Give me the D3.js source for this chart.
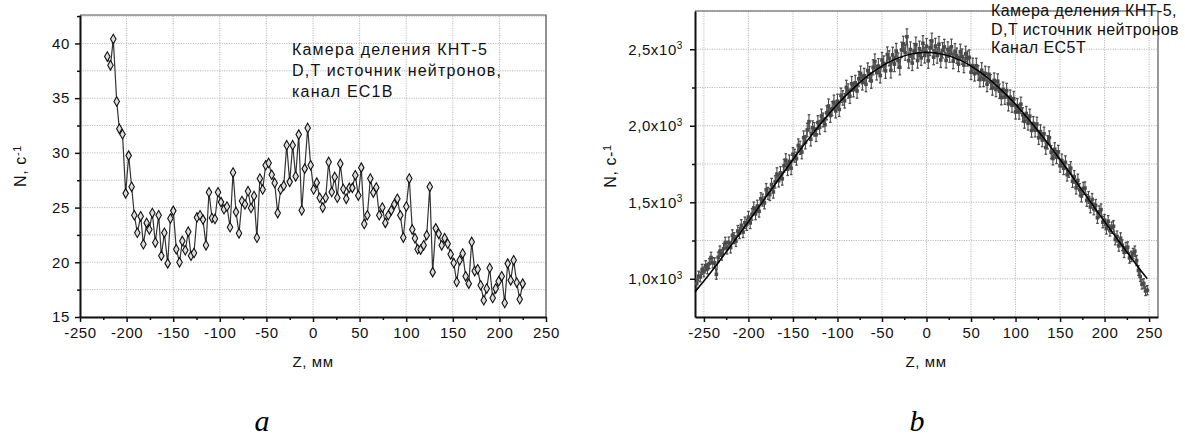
<!DOCTYPE html>
<html>
<head>
<meta charset="utf-8">
<script src="https://cdn.jsdelivr.net/npm/d3@7"></script>
<style>
  html, body { margin: 0; padding: 0; background: #fff; }
  svg { display: block; }
</style>
</head>
<body>
<svg id="fig" width="1185" height="436"></svg>
<script>
// ---- Panel a: fission chamber count rate, channel EC1B ----
const aZ = [-220.7,-217.3,-214.3,-210.6,-207.8,-204.4,-201.0,-197.8,-194.6,-191.7,
  -188.5,-184.9,-182.0,-178.5,-175.6,-172.4,-169.2,-165.6,-162.7,-159.5,
  -155.9,-153.0,-149.9,-146.7,-143.2,-140.2,-137.0,-133.8,-130.9,-127.7,
  -124.5,-121.2,-118.0,-114.8,-111.6,-108.4,-105.2,-101.9,-98.7,-95.5,
  -92.3,-89.0,-85.8,-82.6,-79.4,-76.2,-73.0,-69.7,-66.5,-63.3,
  -60.2,-57.0,-54.0,-50.8,-47.6,-44.3,-41.1,-37.9,-34.7,-31.4,
  -28.2,-25.0,-21.8,-18.6,-15.3,-12.1,-8.9,-5.7,-2.5,0.7,
  4.0,7.2,10.4,13.6,16.8,20.1,23.3,26.1,29.3,32.5,
  35.7,38.9,42.2,45.4,48.6,51.8,55.0,58.3,61.5,64.7,
  67.9,71.1,74.4,77.6,80.8,84.0,87.2,90.5,93.7,96.9,
  100.1,103.3,106.5,109.4,112.3,115.5,118.7,122.0,125.3,128.4,
  131.7,134.9,138.1,141.3,144.5,147.7,151.0,154.2,157.4,160.6,
  163.8,167.1,170.3,173.5,176.7,179.9,183.2,186.4,189.6,192.8,
  196.0,199.2,202.5,205.7,208.9,212.1,215.3,218.6,221.8,225.0];
const aN = [38.8,38.0,40.4,34.7,32.2,31.7,26.3,29.75,26.9,24.3,
  22.7,24.2,21.65,23.6,23.0,24.5,21.8,24.3,20.6,22.7,
  19.9,24.0,24.7,21.2,20.0,21.95,21.1,22.8,20.6,20.85,
  24.1,24.3,23.9,21.55,26.4,24.05,23.96,26.4,25.5,24.85,
  25.1,23.2,28.2,24.6,22.65,25.6,25.3,26.5,24.96,26.06,
  22.25,27.65,26.65,28.87,29.08,28.0,27.25,24.5,26.65,27.0,
  30.7,27.35,30.7,27.86,31.67,24.75,28.56,32.28,28.87,26.65,
  27.28,25.9,25.0,25.9,29.17,26.43,27.8,25.9,29.0,26.7,
  25.8,26.8,26.8,27.95,26.1,28.65,23.5,24.3,27.65,26.37,
  26.83,24.3,25.0,23.6,24.3,24.75,25.3,25.8,24.3,22.26,
  25.1,27.65,23.0,22.2,21.2,21.16,21.55,22.47,26.9,19.1,
  23.1,22.6,21.55,22.2,21.7,20.73,19.94,18.2,20.18,20.8,
  18.72,18.05,21.86,19.2,19.36,17.9,16.53,17.6,19.48,16.74,
  17.6,18.26,18.72,16.28,19.88,18.35,20.18,18.15,16.62,18.05];
const aXTicks = [-250,-200,-150,-100,-50,0,50,100,150,200,250];
const aXMinor = [-225,-175,-125,-75,-25,25,75,125,175,225];
const aYTicks = [15,20,25,30,35,40];
const aYMinor = [17.5,22.5,27.5,32.5,37.5,42.5];
const aNote = ["Камера деления КНТ-5", "D,T источник нейтронов,", "канал EC1B"];

// ---- Panel b: channel EC5T, measured points with error bars and fitted curve ----
const bZ = [-258,-256,-254,-252,-250,-248,-246,-244,-242,-240,
  -238,-236,-234,-232,-230,-228,-226,-224,-222,-220,
  -218,-216,-214,-212,-210,-208,-206,-204,-202,-200,
  -198,-196,-194,-192,-190,-188,-186,-184,-182,-180,
  -178,-176,-174,-172,-170,-168,-166,-164,-162,-160,
  -158,-156,-154,-152,-150,-148,-146,-144,-142,-140,
  -138,-136,-134,-132,-130,-128,-126,-124,-122,-120,
  -118,-116,-114,-112,-110,-108,-106,-104,-102,-100,
  -98,-96,-94,-92,-90,-88,-86,-84,-82,-80,
  -78,-76,-74,-72,-70,-68,-66,-64,-62,-60,
  -58,-56,-54,-52,-50,-48,-46,-44,-42,-40,
  -38,-36,-34,-32,-30,-28,-26,-24,-22,-20,
  -18,-16,-14,-12,-10,-8,-6,-4,-2,0,
  2,4,6,8,10,12,14,16,18,20,
  22,24,26,28,30,32,34,36,38,40,
  42,44,46,48,50,52,54,56,58,60,
  62,64,66,68,70,72,74,76,78,80,
  82,84,86,88,90,92,94,96,98,100,
  102,104,106,108,110,112,114,116,118,120,
  122,124,126,128,130,132,134,136,138,140,
  142,144,146,148,150,152,154,156,158,160,
  162,164,166,168,170,172,174,176,178,180,
  182,184,186,188,190,192,194,196,198,200,
  202,204,206,208,210,212,214,216,218,220,
  222,224,226,228,230,232,234,236,238,240,
  242,244,246,248];
const bN = [968,1017,1012,1061,1045,1085,1065,1099,1139,1104,
  1104,1029,1140,1180,1156,1196,1236,1197,1238,1204,
  1284,1265,1246,1312,1298,1349,1305,1366,1353,1403,
  1365,1421,1463,1424,1475,1441,1523,1514,1496,1582,
  1558,1550,1616,1567,1633,1684,1641,1692,1653,1739,
  1775,1716,1767,1723,1814,1804,1785,1871,1856,1827,
  1922,1892,1972,2027,1912,1987,1977,1941,2021,1990,
  2064,2038,2007,2085,2129,2067,2111,2154,2097,2160,
  2107,2199,2182,2163,2250,2227,2193,2274,2236,2281,
  2227,2307,2342,2282,2327,2271,2361,2339,2293,2382,
  2420,2347,2390,2328,2430,2407,2359,2465,2441,2362,
  2463,2403,2488,2427,2382,2496,2535,2478,2582,2425,
  2498,2410,2488,2529,2426,2503,2444,2539,2460,2520,
  2425,2509,2554,2448,2521,2459,2533,2430,2493,2515,
  2427,2498,2465,2516,2422,2487,2458,2403,2483,2452,
  2396,2470,2439,2447,2350,2393,2340,2392,2345,2302,
  2363,2304,2341,2271,2337,2287,2247,2297,2237,2291,
  2226,2184,2238,2187,2230,2143,2187,2134,2177,2090,
  2132,2089,2141,2072,2029,2080,2017,2063,1969,2015,
  1971,2011,1922,1962,1907,1947,1857,1892,1922,1827,
  1786,1846,1795,1829,1739,1773,1722,1761,1680,1704,
  1723,1637,1666,1594,1643,1582,1541,1590,1593,1512,
  1531,1469,1518,1456,1480,1399,1438,1451,1370,1383,
  1328,1376,1315,1334,1343,1257,1276,1215,1264,1219,
  1173,1202,1206,1136,1146,1165,1180,1119,1054,1014,
  964,969,920,925];
const bErr = [31,32,32,33,32,33,33,33,34,33,
  33,32,34,34,34,35,35,35,35,35,
  36,36,35,36,36,37,36,37,37,37,
  37,38,38,38,38,38,39,39,39,40,
  39,39,40,40,40,41,41,41,41,42,
  42,41,42,42,43,42,42,43,43,43,
  44,43,44,45,44,45,44,44,45,45,
  45,45,45,46,46,45,46,46,46,46,
  46,47,47,47,47,47,47,48,47,48,
  47,48,48,48,48,48,49,48,48,49,
  49,48,49,48,49,49,49,50,49,49,
  50,49,50,49,49,50,50,50,51,49,
  50,49,50,50,49,50,49,50,50,50,
  49,50,51,49,50,50,50,49,50,50,
  49,50,50,50,49,50,50,49,50,50,
  49,50,49,49,48,49,48,49,48,48,
  49,48,48,48,48,48,47,48,47,48,
  47,47,47,47,47,46,47,46,47,46,
  46,46,46,46,45,46,45,45,44,45,
  44,45,44,44,44,44,43,43,44,43,
  42,43,42,43,42,42,41,42,41,41,
  42,40,41,40,41,40,39,40,40,39,
  39,38,39,38,38,37,38,38,37,37,
  36,37,36,37,37,35,36,35,36,35,
  34,35,35,34,34,34,34,33,32,32,
  31,31,30,30];
const fitZ = [-260,-250,-240,-230,-220,-210,-200,-190,-180,-170,-160,-150,-140,
  -130,-120,-110,-100,-90,-80,-70,-60,-50,-40,-30,-20,-10,0,
  10,20,30,40,50,60,70,80,90,100,110,120,130,140,150,160,170,180,190,
  200,210,220,230,240,248];
const fitN = [914,985,1059,1136,1214,1293,1373,1455,1537,1618,1699,1779,1857,
  1932,2005,2074,2140,2200,2256,2307,2352,2390,2422,2447,2465,2476,2480,
  2476,2465,2447,2422,2390,2352,2307,2256,2200,2140,2074,2005,1932,1857,1779,1699,1618,1537,1455,
  1373,1293,1214,1136,1059,1000];
const bXTicks = [-250,-200,-150,-100,-50,0,50,100,150,200,250];
const bXMinor = [-225,-175,-125,-75,-25,25,75,125,175,225];
const bYTicks = [1000,1500,2000,2500];
const bYMinor = [750,1250,1750,2250,2750];
const bYLabels = ["1,0x10", "1,5x10", "2,0x10", "2,5x10"];
const bNote = ["Камера деления КНТ-5,", "D,T источник нейтронов", "Канал EC5T"];

const panelLetters = ["a", "b"];

const SANS = "'Liberation Sans', Arial, sans-serif";
const SERIF = "'Liberation Serif', 'Times New Roman', serif";
const svg = d3.select("#fig");

function frame(g, x, y, xTicks, yTicks, yMinor) {
  const [x0, x1] = x.range();
  const [y0, y1] = y.range();
  // dotted grid: vertical at major x ticks, horizontal at every y tick
  g.append("g").selectAll("line").data(xTicks).join("line")
    .attr("x1", d => x(d)).attr("x2", d => x(d))
    .attr("y1", y0).attr("y2", y1)
    .attr("stroke", "#aaa").attr("stroke-width", 0.8).attr("stroke-dasharray", "1.2,1.2");
  g.append("g").selectAll("line").data(yTicks.concat(yMinor)).join("line")
    .attr("x1", x0).attr("x2", x1)
    .attr("y1", d => y(d)).attr("y2", d => y(d))
    .attr("stroke", "#aaa").attr("stroke-width", 0.8).attr("stroke-dasharray", "1.2,1.2");
  // top and right border
  g.append("path")
    .attr("d", `M${x0},${y1}H${x1}V${y0}`)
    .attr("fill", "none").attr("stroke", "#555").attr("stroke-width", 1.2);
}

function minorAxis(sel) {
  sel.select(".domain").remove();
  sel.selectAll("line").attr("stroke", "#111").attr("stroke-width", 1.5);
}

function styleAxis(sel) {
  sel.select(".domain").attr("stroke", "#111").attr("stroke-width", 2);
  sel.selectAll(".tick line").attr("stroke", "#111").attr("stroke-width", 1.5);
  sel.selectAll(".tick text")
    .style("font-family", SANS).style("font-size", "15px").style("fill", "#111")
    .style("letter-spacing", "0.6px");
}

function label(g, x, y, str, size) {
  return g.append("text").attr("x", x).attr("y", y)
    .style("font-family", SANS).style("font-size", size + "px").style("fill", "#111")
    .text(str);
}

// ===================== panel a =====================
{
  const x = d3.scaleLinear().domain([-250, 250]).range([80, 546]);
  const y = d3.scaleLinear().domain([15, 42.6]).range([317, 15]);
  const g = svg.append("g");
  frame(g, x, y, aXTicks, aYTicks, aYMinor);

  g.append("g").attr("transform", "translate(0,317)")
    .call(d3.axisBottom(x).tickValues(aXMinor).tickSize(3).tickFormat(""))
    .call(minorAxis);
  g.append("g").attr("transform", "translate(80,0)")
    .call(d3.axisLeft(y).tickValues(aYMinor.filter(v => v < 42.6)).tickSize(3).tickFormat(""))
    .call(minorAxis);
  g.append("g").attr("transform", "translate(0,317)")
    .call(d3.axisBottom(x).tickValues(aXTicks).tickSize(5).tickPadding(5).tickSizeOuter(0).tickFormat(d => String(d)))
    .call(styleAxis);
  g.append("g").attr("transform", "translate(80,0)")
    .call(d3.axisLeft(y).tickValues(aYTicks).tickSize(5).tickPadding(5).tickSizeOuter(0).tickFormat(d => String(d)))
    .call(styleAxis);

  const pts = aZ.map((z, i) => [z, aN[i]]);
  g.append("path").datum(pts)
    .attr("d", d3.line().x(d => x(d[0])).y(d => y(d[1])))
    .attr("fill", "none").attr("stroke", "#333").attr("stroke-width", 1.2);
  g.append("g").selectAll("path").data(pts).join("path")
    .attr("transform", d => `translate(${x(d[0])},${y(d[1])})`)
    .attr("d", d3.symbol(d3.symbolDiamond, 26))
    .attr("fill", "#ddd").attr("stroke", "#111").attr("stroke-width", 1.1);

  const note = g.append("text")
    .style("font-family", SANS).style("font-size", "16px").style("fill", "#111")
    .style("letter-spacing", "1.2px");
  aNote.forEach((t, i) => note.append("tspan").attr("x", 292).attr("y", 55 + i * 20.8).text(t));

  g.append("text").attr("transform", "translate(26,166) rotate(-90)")
    .attr("text-anchor", "middle")
    .style("font-family", SANS).style("font-size", "16px").style("fill", "#111").style("letter-spacing", "0.6px")
    .call(t => { t.append("tspan").text("N, c"); t.append("tspan").attr("dy", "-0.5em").style("font-size", "11px").text("-1"); });
  label(g, 313, 367, "Z, мм", 15).attr("text-anchor", "middle").style("letter-spacing", "0.6px");
  g.append("text").attr("x", 262).attr("y", 431).attr("text-anchor", "middle")
    .style("font-family", SERIF).style("font-style", "italic").style("font-size", "30px").style("fill", "#000")
    .text(panelLetters[0]);
}

// ===================== panel b =====================
{
  const x = d3.scaleLinear().domain([-260, 260]).range([695, 1158]);
  const y = d3.scaleLinear().domain([750, 2750]).range([317, 11]);
  const g = svg.append("g");
  frame(g, x, y, bXTicks, bYTicks, bYMinor);

  g.append("g").attr("transform", "translate(0,317)")
    .call(d3.axisBottom(x).tickValues(bXMinor).tickSize(3).tickFormat(""))
    .call(minorAxis);
  g.append("g").attr("transform", "translate(695,0)")
    .call(d3.axisLeft(y).tickValues(bYMinor.filter(v => v > 750 && v < 2750)).tickSize(3).tickFormat(""))
    .call(minorAxis);
  g.append("g").attr("transform", "translate(0,317)")
    .call(d3.axisBottom(x).tickValues(bXTicks).tickSize(5).tickPadding(5).tickSizeOuter(0).tickFormat(d => String(d)))
    .call(styleAxis);
  g.append("g").attr("transform", "translate(695,0)")
    .call(d3.axisLeft(y).tickValues(bYTicks).tickSize(5).tickPadding(7).tickSizeOuter(0)
      .tickFormat((d, i) => bYLabels[i]))
    .call(styleAxis)
    .call(s => s.selectAll(".tick text").append("tspan").attr("dy", "-0.55em").style("font-size", "10px").text("3"));

  const pts = bZ.map((z, i) => ({ z, n: bN[i], e: bErr[i] }));
  const clr = "#4a4a4a";
  g.append("g").selectAll("line").data(pts).join("line")
    .attr("x1", d => x(d.z)).attr("x2", d => x(d.z))
    .attr("y1", d => y(d.n - d.e)).attr("y2", d => y(d.n + d.e))
    .attr("stroke", clr).attr("stroke-width", 1.1);
  g.append("g").selectAll("path").data(pts.flatMap(d => [[d.z, d.n - d.e], [d.z, d.n + d.e]])).join("path")
    .attr("d", d => `M${x(d[0]) - 1.3},${y(d[1])}h2.6`)
    .attr("stroke", clr).attr("stroke-width", 1.3);
  g.append("path").datum(pts)
    .attr("d", d3.line().x(d => x(d.z)).y(d => y(d.n)))
    .attr("fill", "none").attr("stroke", "#555").attr("stroke-width", 1.3);
  g.append("g").selectAll("rect").data(pts).join("rect")
    .attr("x", d => x(d.z) - 1.8).attr("y", d => y(d.n) - 1.8)
    .attr("width", 3.6).attr("height", 3.6).attr("fill", clr);

  g.append("path").datum(fitZ.map((z, i) => [z, fitN[i]]))
    .attr("d", d3.line().curve(d3.curveCatmullRom).x(d => x(d[0])).y(d => y(d[1])))
    .attr("fill", "none").attr("stroke", "#000").attr("stroke-width", 1.5);

  const note = g.append("text")
    .style("font-family", SANS).style("font-size", "16px").style("fill", "#111")
    .style("letter-spacing", "0.45px");
  bNote.forEach((t, i) => note.append("tspan").attr("x", 991).attr("y", 16 + i * 18.6).text(t));

  g.append("text").attr("transform", "translate(616,166) rotate(-90)")
    .attr("text-anchor", "middle")
    .style("font-family", SANS).style("font-size", "16px").style("fill", "#111").style("letter-spacing", "0.6px")
    .call(t => { t.append("tspan").text("N, c-"); t.append("tspan").attr("dy", "-0.5em").style("font-size", "11px").text("1"); });
  label(g, 926, 367, "Z, мм", 15).attr("text-anchor", "middle").style("letter-spacing", "0.6px");
  g.append("text").attr("x", 917).attr("y", 431).attr("text-anchor", "middle")
    .style("font-family", SERIF).style("font-style", "italic").style("font-size", "30px").style("fill", "#000")
    .text(panelLetters[1]);
}
</script>
</body>
</html>
